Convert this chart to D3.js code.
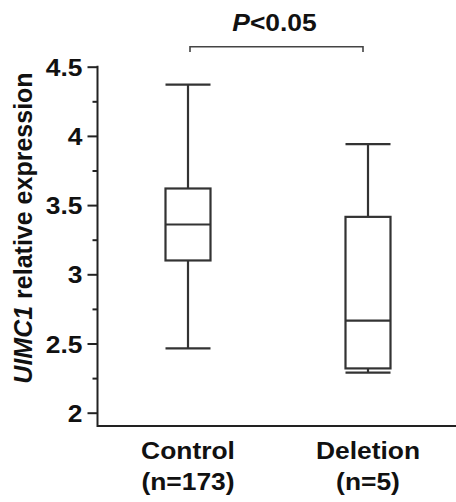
<!DOCTYPE html>
<html>
<head>
<meta charset="utf-8">
<script src="https://cdn.jsdelivr.net/npm/d3@7"></script>
<style>
  html, body { margin: 0; padding: 0; background: #fff; }
  svg { display: block; }
  text { font-family: Arial, "Liberation Sans", sans-serif; font-weight: bold; fill: #111; }
</style>
</head>
<body>
<svg id="chart" width="456" height="502"></svg>
<script>
// ---- data ----
const categories = ["Control", "Deletion"];
const counts = ["(n=173)", "(n=5)"];
const whiskerHigh = [4.37, 3.94];
const q3 = [3.62, 3.415];
const medians = [3.36, 2.665];
const q1 = [3.10, 2.32];
const whiskerLow = [2.465, 2.29];
const yTicks = [2, 2.5, 3, 3.5, 4, 4.5];
const yMinorTicks = [2.25, 2.75, 3.25, 3.75, 4.25];
const yLabelItalic = "UIMC1";
const yLabelRest = " relative expression";
const pLabelItalic = "P";
const pLabelRest = "<0.05";

// ---- layout ----
const svg = d3.select("#chart");
const stretch = 1.1;
const y = d3.scaleLinear().domain([2, 4.5]).range([412.7, 66.7]);
const x = d3.scalePoint().domain(categories).range([188, 368]);
const axisX0 = 97.5, axisX1 = 456, axisY = 426;
const boxW = 45;
const stroke = "#333";

// y axis major ticks
const yAxis = d3.axisLeft(y).tickValues(yTicks).tickSize(10).tickSizeOuter(0)
  .tickFormat(d => String(d)).tickPadding(5);
const gy = svg.append("g").attr("transform", `translate(${axisX0},0)`).call(yAxis);
gy.select(".domain").remove();
gy.selectAll(".tick line").attr("stroke", "#222").attr("stroke-width", 2);
gy.selectAll(".tick text").each(function () {
  const t = d3.select(this);
  const xx = +t.attr("x");
  t.attr("x", null).attr("dy", null)
   .attr("transform", `translate(${xx},0) scale(${stretch},1)`)
   .attr("dominant-baseline", "central")
   .style("font-size", "24px").style("font-family", "Arial, 'Liberation Sans', sans-serif")
   .style("font-weight", "bold").attr("fill", "#111");
});
// minor ticks
const yAxisMinor = d3.axisLeft(y).tickValues(yMinorTicks).tickSize(5).tickFormat("");
const gym = svg.append("g").attr("transform", `translate(${axisX0},0)`).call(yAxisMinor);
gym.select(".domain").remove();
gym.selectAll(".tick line").attr("stroke", "#222").attr("stroke-width", 2);

// axis lines
svg.append("line").attr("x1", axisX0).attr("x2", axisX0)
  .attr("y1", y(4.5) - 1).attr("y2", axisY + 1)
  .attr("stroke", "#222").attr("stroke-width", 2);
svg.append("line").attr("x1", axisX0).attr("x2", axisX1)
  .attr("y1", axisY).attr("y2", axisY)
  .attr("stroke", "#222").attr("stroke-width", 2);

// boxes
const data = categories.map((c, i) => ({
  c, hi: whiskerHigh[i], q3: q3[i], med: medians[i], q1: q1[i], lo: whiskerLow[i]
}));
const g = svg.append("g").attr("fill", "none").attr("stroke", stroke).attr("stroke-width", 2.2);
data.forEach(d => {
  const cx = x(d.c);
  // whiskers
  g.append("line").attr("x1", cx).attr("x2", cx).attr("y1", y(d.hi)).attr("y2", y(d.q3));
  g.append("line").attr("x1", cx).attr("x2", cx).attr("y1", y(d.q1)).attr("y2", y(d.lo));
  // caps
  g.append("line").attr("x1", cx - boxW / 2).attr("x2", cx + boxW / 2).attr("y1", y(d.hi)).attr("y2", y(d.hi));
  g.append("line").attr("x1", cx - boxW / 2).attr("x2", cx + boxW / 2).attr("y1", y(d.lo)).attr("y2", y(d.lo));
  // box
  g.append("rect").attr("x", cx - boxW / 2).attr("width", boxW)
    .attr("y", y(d.q3)).attr("height", y(d.q1) - y(d.q3));
  // median
  g.append("line").attr("x1", cx - boxW / 2).attr("x2", cx + boxW / 2).attr("y1", y(d.med)).attr("y2", y(d.med));
});

// category labels
categories.forEach((c, i) => {
  svg.append("text").attr("text-anchor", "middle")
    .attr("transform", `translate(${x(c)},459) scale(${stretch},1)`)
    .style("font-size", "24px").text(c);
  svg.append("text").attr("text-anchor", "middle")
    .attr("transform", `translate(${x(c)},490) scale(${stretch},1)`)
    .style("font-size", "24px").text(counts[i]);
});

// y label
const yl = svg.append("text").attr("text-anchor", "middle")
  .attr("transform", `translate(32,228) rotate(-90)`)
  .style("font-size", "25px");
yl.append("tspan").style("font-style", "italic").text(yLabelItalic);
yl.append("tspan").text(yLabelRest);

// significance bracket
const bx0 = x(categories[0]) + 2, bx1 = x(categories[1]) - 5;
svg.append("path")
  .attr("d", `M${bx0},52 V46.7 H${bx1} V52`)
  .attr("fill", "none").attr("stroke", "#444").attr("stroke-width", 1.6);
const pt = svg.append("text").attr("text-anchor", "middle")
  .attr("transform", `translate(${(bx0 + bx1) / 2 - 2},30.5) scale(${stretch},1)`)
  .style("font-size", "24px");
pt.append("tspan").style("font-style", "italic").text(pLabelItalic);
pt.append("tspan").text(pLabelRest);
</script>
</body>
</html>
